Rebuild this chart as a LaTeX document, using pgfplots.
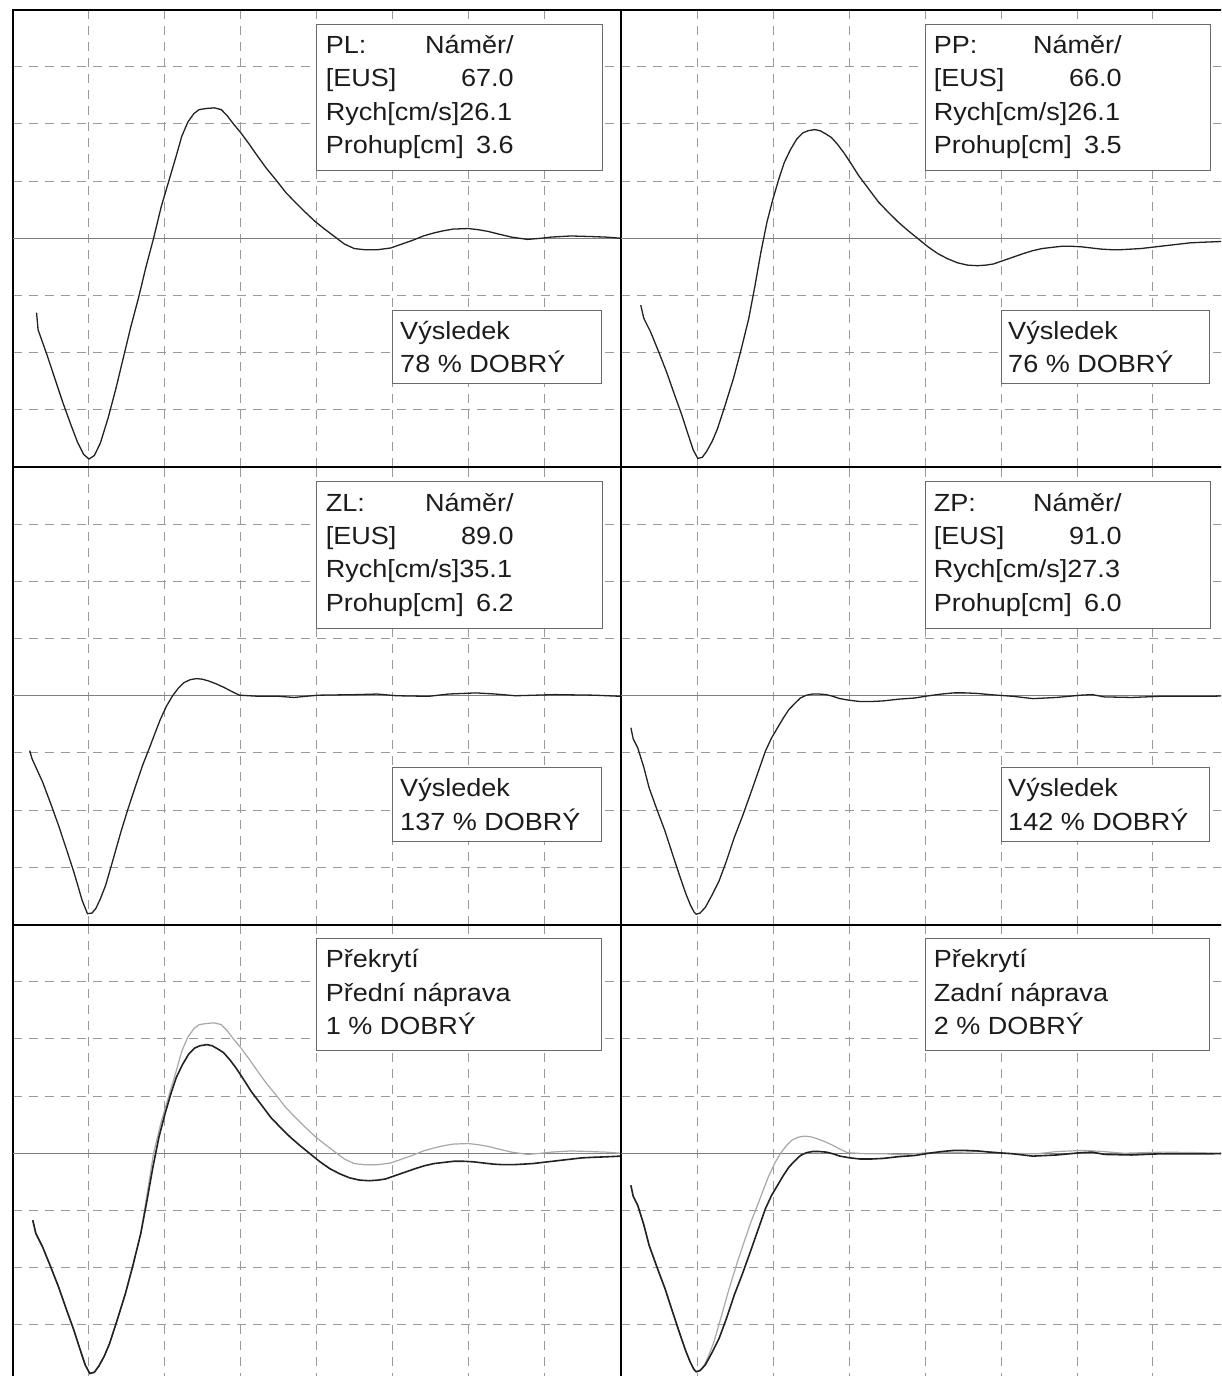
\documentclass[border=0pt]{standalone}
\usepackage{fontspec}
\setmainfont[FakeStretch=1.09]{Liberation Sans}
\usepackage{pgfplots}
\usepackage{pgfplotstable}
\pgfplotsset{compat=1.18}

\definecolor{txtc}{HTML}{1C1C1C}
\definecolor{boxc}{HTML}{6A6A6A}
\definecolor{gridc}{HTML}{9A9A9A}
\definecolor{curvec}{HTML}{222222}
\definecolor{lightc}{HTML}{A8A8A8}

\pgfplotstableread{
x y
0.31 -1.30
0.33 -1.60
0.45 -2.05
0.55 -2.45
0.65 -2.85
0.75 -3.22
0.85 -3.57
0.93 -3.78
1.00 -3.86
1.07 -3.80
1.15 -3.58
1.25 -3.15
1.35 -2.65
1.45 -2.10
1.55 -1.55
1.65 -1.05
1.75 -0.50
1.85 0.00
1.95 0.55
2.05 1.00
2.15 1.45
2.22 1.78
2.30 2.03
2.38 2.18
2.45 2.25
2.55 2.27
2.65 2.28
2.74 2.25
2.82 2.14
2.90 2.00
3.00 1.84
3.10 1.66
3.20 1.47
3.33 1.23
3.46 1.02
3.59 0.80
3.72 0.62
3.85 0.45
3.97 0.30
4.10 0.16
4.23 0.03
4.36 -0.10
4.49 -0.18
4.62 -0.20
4.80 -0.20
4.97 -0.17
5.12 -0.10
5.27 -0.03
5.40 0.04
5.53 0.09
5.66 0.13
5.79 0.16
5.99 0.17
6.12 0.15
6.25 0.12
6.40 0.07
6.56 0.02
6.77 -0.02
6.95 0.00
7.08 0.02
7.34 0.04
7.60 0.03
7.80 0.02
8.00 0.00
}\PL

\pgfplotstableread{
x y
0.26 -1.17
0.30 -1.40
0.39 -1.64
0.50 -2.00
0.60 -2.34
0.70 -2.72
0.80 -3.09
0.88 -3.42
0.95 -3.70
1.01 -3.85
1.07 -3.83
1.13 -3.72
1.20 -3.55
1.27 -3.33
1.37 -2.92
1.48 -2.45
1.58 -1.95
1.68 -1.41
1.76 -0.85
1.84 -0.25
1.92 0.28
2.00 0.69
2.08 1.05
2.15 1.33
2.23 1.55
2.31 1.73
2.39 1.84
2.46 1.88
2.55 1.90
2.62 1.88
2.70 1.82
2.77 1.76
2.85 1.64
2.93 1.50
3.03 1.30
3.13 1.09
3.26 0.86
3.39 0.63
3.52 0.45
3.65 0.28
3.78 0.13
3.91 -0.01
4.04 -0.15
4.17 -0.27
4.30 -0.36
4.43 -0.43
4.56 -0.47
4.69 -0.48
4.80 -0.47
4.90 -0.45
5.03 -0.39
5.16 -0.33
5.29 -0.27
5.41 -0.22
5.54 -0.18
5.67 -0.16
5.80 -0.14
5.93 -0.14
6.06 -0.15
6.19 -0.17
6.32 -0.19
6.45 -0.20
6.58 -0.20
6.71 -0.19
6.84 -0.18
6.97 -0.16
7.10 -0.14
7.23 -0.12
7.36 -0.10
7.49 -0.08
7.65 -0.07
7.84 -0.06
8.00 -0.05
}\PP

\pgfplotstableread{
x y
0.22 -0.96
0.25 -1.10
0.39 -1.51
0.50 -1.90
0.60 -2.27
0.70 -2.67
0.80 -3.08
0.86 -3.35
0.91 -3.58
0.98 -3.81
1.04 -3.80
1.09 -3.72
1.15 -3.55
1.22 -3.31
1.32 -2.85
1.42 -2.38
1.52 -1.95
1.63 -1.51
1.71 -1.20
1.79 -0.93
1.87 -0.65
1.94 -0.41
2.02 -0.18
2.10 0.00
2.18 0.14
2.25 0.23
2.33 0.28
2.41 0.30
2.49 0.29
2.57 0.26
2.67 0.21
2.77 0.15
2.87 0.08
2.98 0.01
3.24 -0.01
3.50 -0.01
3.70 -0.03
3.85 -0.01
4.02 0.01
4.53 0.02
4.79 0.03
5.05 0.00
5.47 -0.01
5.73 0.03
6.09 0.05
6.35 0.03
6.61 0.00
7.13 0.02
7.65 0.01
8.00 -0.01
}\ZL

\pgfplotstableread{
x y
0.13 -0.56
0.16 -0.75
0.22 -0.91
0.30 -1.25
0.37 -1.61
0.47 -1.98
0.58 -2.37
0.68 -2.78
0.78 -3.18
0.85 -3.45
0.91 -3.65
0.96 -3.78
0.99 -3.82
1.04 -3.80
1.11 -3.70
1.20 -3.48
1.29 -3.24
1.39 -2.88
1.49 -2.48
1.60 -2.10
1.70 -1.73
1.80 -1.35
1.90 -0.97
1.98 -0.74
2.06 -0.56
2.14 -0.38
2.21 -0.24
2.29 -0.13
2.36 -0.04
2.44 0.01
2.52 0.03
2.61 0.03
2.70 0.02
2.79 -0.01
2.88 -0.05
3.01 -0.08
3.14 -0.10
3.30 -0.10
3.45 -0.09
3.65 -0.06
3.86 -0.04
4.05 0.00
4.22 0.03
4.38 0.05
4.53 0.05
4.70 0.04
4.85 0.02
5.16 -0.01
5.42 -0.05
5.73 -0.03
6.05 0.01
6.20 0.02
6.36 -0.02
6.72 -0.03
7.08 -0.01
7.49 -0.01
7.75 -0.01
8.00 0.00
}\ZP

% overlay light curve, front axle (coincides with dark curve up to the rise)
\pgfplotstableread{
x y
0.26 -1.17
0.30 -1.40
0.39 -1.64
0.50 -2.00
0.60 -2.34
0.70 -2.72
0.80 -3.09
0.88 -3.42
0.95 -3.70
1.01 -3.85
1.07 -3.83
1.13 -3.72
1.20 -3.55
1.27 -3.33
1.37 -2.92
1.48 -2.45
1.58 -1.95
1.68 -1.41
1.76 -0.75
1.85 0.00
1.95 0.55
2.05 1.00
2.15 1.45
2.22 1.78
2.30 2.03
2.38 2.18
2.45 2.25
2.55 2.27
2.65 2.28
2.74 2.25
2.82 2.14
2.90 2.00
3.00 1.84
3.10 1.66
3.20 1.47
3.33 1.23
3.46 1.02
3.59 0.80
3.72 0.62
3.85 0.45
3.97 0.30
4.10 0.16
4.23 0.03
4.36 -0.10
4.49 -0.18
4.62 -0.20
4.80 -0.20
4.97 -0.17
5.12 -0.10
5.27 -0.03
5.40 0.04
5.53 0.09
5.66 0.13
5.79 0.16
5.99 0.17
6.12 0.15
6.25 0.12
6.40 0.07
6.56 0.02
6.77 -0.02
6.95 0.00
7.08 0.02
7.34 0.04
7.60 0.03
7.80 0.02
8.00 0.00
}\PLo

% overlay light curve, rear axle
\pgfplotstableread{
x y
0.13 -0.56
0.16 -0.75
0.22 -0.91
0.30 -1.25
0.37 -1.61
0.47 -1.98
0.58 -2.37
0.68 -2.78
0.78 -3.18
0.85 -3.45
0.91 -3.65
0.96 -3.78
0.99 -3.82
1.04 -3.80
1.09 -3.72
1.15 -3.55
1.22 -3.31
1.32 -2.85
1.42 -2.38
1.52 -1.95
1.63 -1.51
1.71 -1.20
1.79 -0.93
1.87 -0.65
1.94 -0.41
2.02 -0.18
2.10 0.00
2.18 0.14
2.25 0.23
2.33 0.28
2.41 0.30
2.49 0.29
2.57 0.26
2.67 0.21
2.77 0.15
2.87 0.08
2.98 0.01
3.24 -0.01
3.50 -0.01
3.70 -0.03
3.85 -0.01
4.02 0.01
4.53 0.02
4.79 0.03
5.05 0.00
5.47 -0.01
5.73 0.03
6.09 0.05
6.35 0.03
6.61 0.00
7.13 0.02
7.65 0.01
8.00 -0.01
}\ZLo

\pgfplotsset{
  panel/.style={
    width=304pt, height=228.75pt, scale only axis,
    xmin=0, xmax=8, ymin=-4, ymax=4,
    xtick={1,2,3,4,5,6,7}, ytick={-3,-2,-1,1,2,3},
    xticklabels={}, yticklabels={},
    major tick length=0pt,
    grid=major,
    major grid style={draw=gridc, line width=0.5pt, dash pattern=on 4.5pt off 3.5pt},
    extra y ticks={0}, extra y tick labels={},
    extra y tick style={major grid style={solid, draw=black!50, line width=0.7pt}},
    axis line style={black, line width=1pt},
    anchor=north west,
  },
  curve/.style={draw=curvec, line width=0.65pt, no markers},
  light/.style={draw=lightc, line width=0.6pt, no markers},
}
\tikzset{tx/.style={anchor=base west, inner sep=0pt, text=txtc, font=\fontsize{12.4}{15}\selectfont}}

\newcommand{\infobox}[4]{%
  \draw[boxc, fill=white, line width=0.5pt] (axis cs:4.0,3.74) rectangle (axis cs:7.76,1.18);
  \node[tx] at (axis cs:4.11,3.23) {\hbox to 94pt{#1\hfill Náměr/}};
  \node[tx] at (axis cs:4.11,2.645) {\hbox to 94pt{[EUS]\hfill #2}};
  \node[tx] at (axis cs:4.11,2.06) {Rych[cm/s]#3};
  \node[tx] at (axis cs:4.11,1.475) {\hbox to 94pt{Prohup[cm]\hfill #4}};
}
\newcommand{\resbox}[1]{%
  \draw[boxc, fill=white, line width=0.5pt] (axis cs:5.0,-1.26) rectangle (axis cs:7.74,-2.54);
  \node[tx] at (axis cs:5.09,-1.77) {Výsledek};
  \node[tx] at (axis cs:5.09,-2.355) {#1 \% DOBRÝ};
}
\newcommand{\overbox}[1]{%
  \draw[boxc, fill=white, line width=0.5pt] (axis cs:4.0,3.75) rectangle (axis cs:7.75,1.80);
  \node[tx] at (axis cs:4.11,3.24) {Překrytí};
  \node[tx] at (axis cs:4.11,2.655) {#1};
}

\begin{document}
\begin{tikzpicture}
\useasboundingbox (0pt,-688pt) rectangle (610.5pt,0pt);
\clip (0pt,-688pt) rectangle (610.5pt,0pt);
\fill[white] (0pt,-688pt) rectangle (610.5pt,0pt);

% Row 1
\begin{axis}[panel, at={(6.5pt,-4.75pt)}]
\addplot[curve] table[x=x,y=y] {\PL};
\infobox{PL:}{67.0}{26.1}{3.6}
\resbox{78}
\end{axis}
\begin{axis}[panel, at={(310.5pt,-4.75pt)}]
\addplot[curve] table[x=x,y=y] {\PP};
\infobox{PP:}{66.0}{26.1}{3.5}
\resbox{76}
\end{axis}

% Row 2
\begin{axis}[panel, at={(6.5pt,-233.5pt)}]
\addplot[curve] table[x=x,y=y] {\ZL};
\infobox{ZL:}{89.0}{35.1}{6.2}
\resbox{137}
\end{axis}
\begin{axis}[panel, at={(310.5pt,-233.5pt)}]
\addplot[curve] table[x=x,y=y] {\ZP};
\infobox{ZP:}{91.0}{27.3}{6.0}
\resbox{142}
\end{axis}

% Row 3
\begin{axis}[panel, at={(6.5pt,-462.25pt)}]
\addplot[light] table[x=x,y=y] {\PLo};
\addplot[curve, line width=0.8pt] table[x=x,y=y] {\PP};
\overbox{Přední náprava}
\node[tx] at (axis cs:4.11,2.07) {1 \% DOBRÝ};
\end{axis}
\begin{axis}[panel, at={(310.5pt,-462.25pt)}]
\addplot[light] table[x=x,y=y] {\ZLo};
\addplot[curve, line width=0.8pt] table[x=x,y=y] {\ZP};
\overbox{Zadní náprava}
\node[tx] at (axis cs:4.11,2.07) {2 \% DOBRÝ};
\end{axis}
\end{tikzpicture}
\end{document}
